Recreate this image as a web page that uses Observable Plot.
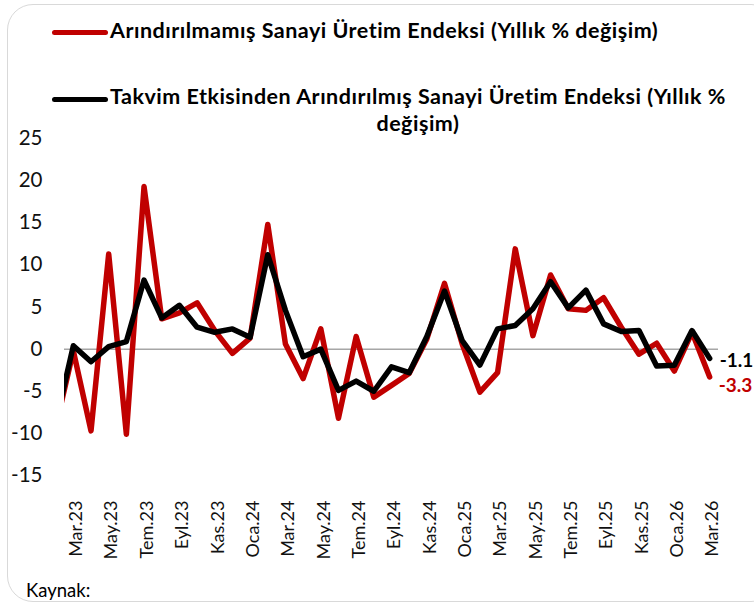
<!DOCTYPE html>
<html>
<head>
<meta charset="utf-8">
<script src="https://cdn.jsdelivr.net/npm/d3@7"></script>
<script src="https://cdn.jsdelivr.net/npm/@observablehq/plot@0.6"></script>
<style>
  html, body { margin: 0; padding: 0; background: #fff; overflow: hidden; }
  #wrap { position: relative; width: 754px; height: 606px; font-family: Lato, "Open Sans", sans-serif; color: #000; }
  #frame { position: absolute; left: 7px; top: 4px; width: 770px; height: 598px; border: 1.5px solid #d9d9d9; border-radius: 26px; box-sizing: border-box; }
  #chart { position: absolute; left: 0; top: 0; }
  .leg { position: absolute; font-weight: 700; font-size: 21.5px; letter-spacing: 0.5px; white-space: nowrap; }
  .sw { position: absolute; height: 5.5px; border-radius: 3px; }
  #src { position: absolute; left: 26px; top: 581px; font-size: 18.5px; line-height: 1; }
</style>
</head>
<body>
<div id="wrap">
  <div id="frame"></div>
  <div id="chart"></div>
  <div class="sw" style="left:52px; top:29.5px; width:56px; background:#c00000"></div>
  <div class="leg" id="leg1" style="left:110px; top:20px; line-height:1;"></div>
  <div class="sw" style="left:52px; top:96.5px; width:56px; background:#000"></div>
  <div class="leg" id="leg2" style="left:110px; top:83px; line-height:27px; text-align:center;"></div>
  <div id="src">Kaynak:</div>
</div>
<script>
// ---- data ----
const months = ["Şub.23","Mar.23","Nis.23","May.23","Haz.23","Tem.23","Ağu.23","Eyl.23","Eki.23","Kas.23","Ara.23",
  "Oca.24","Şub.24","Mar.24","Nis.24","May.24","Haz.24","Tem.24","Ağu.24","Eyl.24","Eki.24","Kas.24","Ara.24",
  "Oca.25","Şub.25","Mar.25","Nis.25","May.25","Haz.25","Tem.25","Ağu.25","Eyl.25","Eki.25","Kas.25","Ara.25",
  "Oca.26","Şub.26","Mar.26"];
const unadjusted = [-9.3,-0.2,-9.7,11.3,-10.1,19.3,3.6,4.3,5.5,2.2,-0.5,
  1.3,14.8,0.6,-3.5,2.4,-8.2,1.5,-5.7,-4.3,-2.9,1.2,7.8,
  0.6,-5.1,-2.8,11.9,1.6,8.8,4.8,4.6,6.1,2.6,-0.6,0.7,
  -2.6,2.0,-3.3];
const calendarAdjusted = [-8.8,0.4,-1.5,0.3,0.9,8.2,3.7,5.2,2.6,2.0,2.4,
  1.4,11.2,4.6,-0.9,0.0,-4.9,-3.8,-5.0,-2.1,-2.8,1.5,6.9,
  1.0,-1.9,2.4,2.8,4.8,8.0,4.9,7.0,3.0,2.1,2.2,-2.0,
  -1.9,2.2,-1.1];
const tickLabels = ["Mar.23","May.23","Tem.23","Eyl.23","Kas.23","Oca.24","Mar.24","May.24","Tem.24","Eyl.24",
  "Kas.24","Oca.25","Mar.25","May.25","Tem.25","Eyl.25","Kas.25","Oca.26","Mar.26"];
const yTicks = [-15,-10,-5,0,5,10,15,20,25];
const seriesNames = ["Arındırılmamış Sanayi Üretim Endeksi (Yıllık % değişim)",
  "Takvim Etkisinden Arındırılmış Sanayi Üretim Endeksi (Yıllık %<br>değişim)"];
const colors = ["#c00000", "#000000"];
const sourceText = "Kaynak:";

document.getElementById("leg1").textContent = seriesNames[0];
document.getElementById("leg2").innerHTML = seriesNames[1];
document.getElementById("src").textContent = sourceText;

const rows = (vals) => vals.map((v, i) => ({i, v, m: months[i]}));
const red = rows(unadjusted);
const blk = rows(calendarAdjusted);
const n = months.length - 1;
const lastRed = [{i: n, v: unadjusted[n]}];
const lastBlk = [{i: n, v: calendarAdjusted[n]}];
const tickData = tickLabels.map(t => ({i: months.indexOf(t), t}));

const chart = Plot.plot({
  width: 754,
  height: 606,
  marginTop: 138,
  marginBottom: 131,
  marginLeft: 64,
  marginRight: 36,
  style: {fontFamily: "Lato, 'Open Sans', sans-serif", color: "#000", background: "transparent"},
  x: {type: "linear", domain: [0.5, months.length - 0.5], axis: null},
  y: {domain: [-15, 25], axis: null},
  marks: [
    Plot.ruleY([0], {stroke: "#a6a6a6", strokeWidth: 1.5}),
    Plot.axisY(yTicks, {label: null, tickSize: 0, tickPadding: 22, fontSize: 20.5, tickFormat: d => String(d), fill: "#111"}),
    Plot.text(tickData, {x: "i", frameAnchor: "bottom", text: "t", rotate: -90, textAnchor: "end", lineAnchor: "middle", dy: 25, dx: 3, fontSize: 18, fill: "#111"}),
    Plot.lineY(red, {x: "i", y: "v", stroke: colors[0], strokeWidth: 5.5, strokeLinejoin: "round", strokeLinecap: "round", clip: true}),
    Plot.lineY(blk, {x: "i", y: "v", stroke: colors[1], strokeWidth: 5.5, strokeLinejoin: "round", strokeLinecap: "round", clip: true}),
    Plot.text(lastRed, {x: "i", y: "v", text: d => d.v.toFixed(1), fill: colors[0], dy: 9, dx: 9, textAnchor: "start", fontWeight: "bold", fontSize: 19}),
    Plot.text(lastBlk, {x: "i", y: "v", text: d => d.v.toFixed(1), fill: colors[1], dy: 3, dx: 10, textAnchor: "start", fontWeight: "bold", fontSize: 19})
  ]
});
document.getElementById("chart").appendChild(chart);
</script>
</body>
</html>
